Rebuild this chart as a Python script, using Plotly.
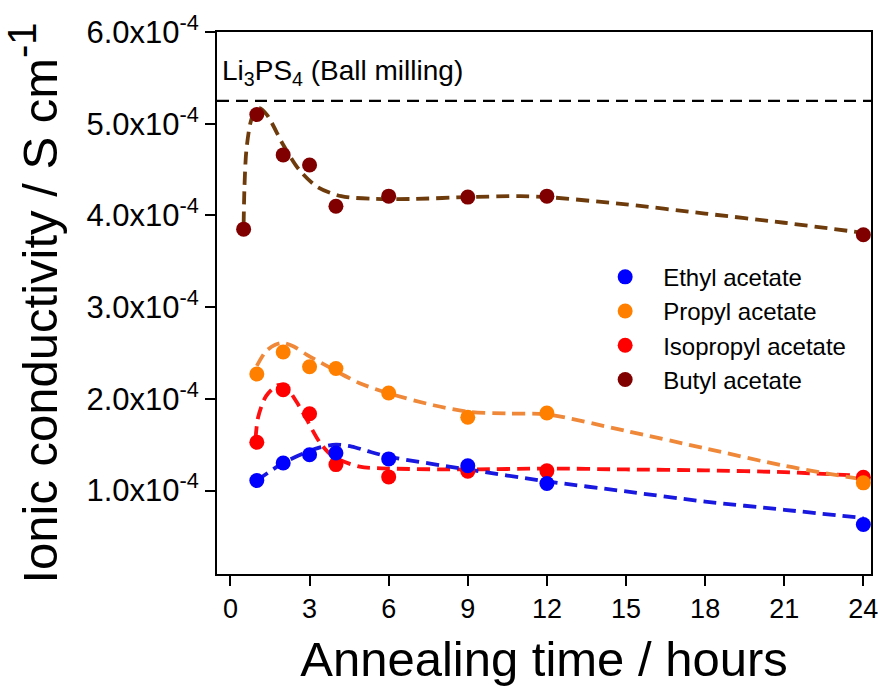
import plotly.graph_objects as go

# Measured conductivity (S cm^-1, in units of 1e-4) vs annealing time (hours)
t_ethyl = [1, 2, 3, 4, 6, 9, 12, 24]
s_ethyl = [1.11, 1.30, 1.39, 1.41, 1.345, 1.27, 1.076, 0.63]

t_propyl = [1, 2, 3, 4, 6, 9, 12, 24]
s_propyl = [2.27, 2.51, 2.35, 2.33, 2.064, 1.80, 1.846, 1.084]

t_isopropyl = [1, 2, 3, 4, 6, 9, 12, 24]
s_isopropyl = [1.526, 2.10, 1.838, 1.283, 1.149, 1.21, 1.215, 1.145]

t_butyl = [0.5, 1, 2, 3, 4, 6, 9, 12, 24]
s_butyl = [3.85, 5.10, 4.66, 4.55, 4.10, 4.21, 4.20, 4.21, 3.79]

# Fitted trend curves (dashed)
fit_t_ethyl = [1, 2, 2.9, 3.4, 4.0, 4.6, 5.2, 6, 9, 12, 15, 18, 21, 24]
fit_s_ethyl = [1.11, 1.30, 1.42, 1.47, 1.50, 1.48, 1.43, 1.37, 1.23, 1.10, 0.99, 0.88, 0.79, 0.70]

fit_t_propyl = [1, 1.35, 1.7, 2.0, 2.4, 2.9, 3.9, 4.9, 6, 7.7, 9, 10.5, 12, 15, 18, 21, 24]
fit_s_propyl = [2.36, 2.52, 2.59, 2.61, 2.57, 2.48, 2.32, 2.17, 2.06, 1.93, 1.86, 1.84, 1.83, 1.65, 1.46, 1.27, 1.12]

fit_t_isopropyl = [0.95, 1.05, 1.35, 1.8, 2.1, 2.5, 2.9, 3.4, 3.9, 4.9, 6, 9, 12, 15, 18, 21, 24]
fit_s_isopropyl = [1.56, 1.80, 2.03, 2.15, 2.13, 1.97, 1.77, 1.52, 1.37, 1.26, 1.24, 1.23, 1.24, 1.23, 1.22, 1.20, 1.16]

fit_t_butyl = [0.5, 0.53, 0.6, 0.75, 0.9, 1.1, 1.4, 2.0, 2.6, 3.3, 4.2, 5.5, 7, 9, 11, 12, 15, 18, 21, 24]
fit_s_butyl = [3.90, 4.30, 4.70, 5.00, 5.12, 5.17, 5.09, 4.77, 4.50, 4.31, 4.21, 4.18, 4.18, 4.20, 4.21, 4.20, 4.12, 4.02, 3.92, 3.81]

reference_level = 5.25  # Li3PS4 prepared by ball milling

y_ticks = [1, 2, 3, 4, 5, 6]
y_tick_text = ["%.1fx10<sup>-4</sup>" % v for v in y_ticks]
x_ticks = [0, 3, 6, 9, 12, 15, 18, 21, 24]

SCALE = 1e-4
FONT = "Liberation Sans, Arial, sans-serif"
X_RANGE = [-0.51, 24.29]


def scaled(vals):
    return [v * SCALE for v in vals]


series = [
    # name, t, s, fit_t, fit_s, marker colour, line colour, rank
    ("Isopropyl acetate", t_isopropyl, s_isopropyl, fit_t_isopropyl, fit_s_isopropyl, "#FF0000", "#FF1010", 3),
    ("Ethyl acetate", t_ethyl, s_ethyl, fit_t_ethyl, fit_s_ethyl, "#0000FF", "#1818E0", 1),
    ("Propyl acetate", t_propyl, s_propyl, fit_t_propyl, fit_s_propyl, "#FF8000", "#F0883A", 2),
    ("Butyl acetate", t_butyl, s_butyl, fit_t_butyl, fit_s_butyl, "#800000", "#6E3C0C", 4),
]

fig = go.Figure()

# Li3PS4 reference line
fig.add_trace(go.Scatter(
    x=X_RANGE, y=scaled([reference_level, reference_level]),
    mode="lines", line=dict(color="black", width=2.2, dash="12px,7px"),
    showlegend=False, hoverinfo="skip",
))

for name, t, s, ft, fs, mc, lc, rank in series:
    fig.add_trace(go.Scatter(
        x=ft, y=scaled(fs), mode="lines",
        line=dict(color=lc, width=3.8, dash="13px,7px", shape="spline", smoothing=0.8),
        showlegend=False, hoverinfo="skip",
    ))

for name, t, s, ft, fs, mc, lc, rank in series:
    fig.add_trace(go.Scatter(
        x=t, y=scaled(s), mode="markers", name=name, legendrank=rank,
        marker=dict(color=mc, size=15, line=dict(width=0)),
    ))

fig.add_annotation(
    x=0.004, xref="paper", y=reference_level * SCALE, yref="y",
    xanchor="left", yanchor="bottom", yshift=9, showarrow=False,
    text="Li<sub>3</sub>PS<sub>4</sub> (Ball milling)",
    font=dict(family=FONT, size=28, color="black"),
)

axis_common = dict(
    showline=True, linecolor="black", linewidth=2, mirror=True,
    ticks="outside", ticklen=10, tickwidth=2, tickcolor="black",
    showgrid=False, zeroline=False,
)

fig.update_xaxes(
    range=X_RANGE, tickvals=x_ticks, ticklabeloverflow="allow",
    tickfont=dict(family=FONT, size=27, color="black"),
    title=dict(text="Annealing time / hours", font=dict(family=FONT, size=49, color="black"), standoff=18),
    **axis_common,
)
fig.update_yaxes(
    range=[0.09 * SCALE, 6.0 * SCALE], tickvals=scaled(y_ticks), ticktext=y_tick_text,
    tickfont=dict(family=FONT, size=31, color="black"),
    title=dict(
        text="Ionic conductivity / S cm<sup><span style='font-size:40px'>-1</span></sup>",
        font=dict(family=FONT, size=49, color="black"), standoff=20,
    ),
    **axis_common,
)

fig.update_layout(
    width=878, height=691,
    margin=dict(l=217, r=7, t=32, b=117, autoexpand=False),
    paper_bgcolor="white", plot_bgcolor="white",
    showlegend=True,
    legend=dict(
        x=0.566, y=0.589, xanchor="left", yanchor="top",
        bgcolor="rgba(0,0,0,0)", borderwidth=0,
        itemwidth=66, tracegroupgap=0,
        font=dict(family=FONT, size=24, color="black"),
    ),
)

fig.write_html("out.html")
